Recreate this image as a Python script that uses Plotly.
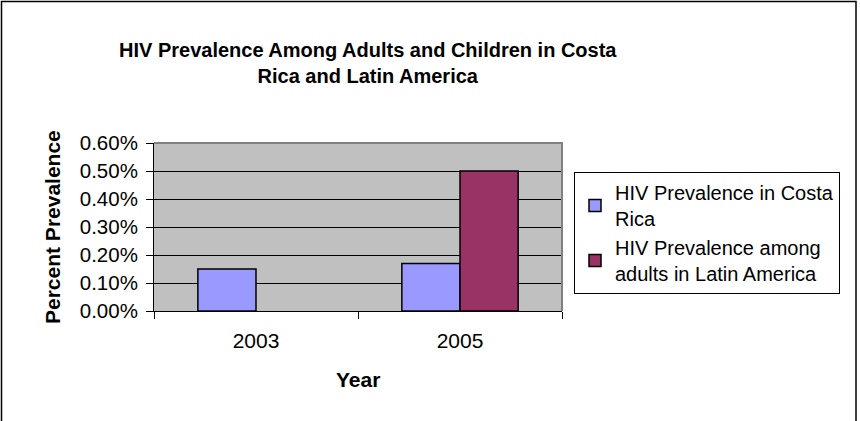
import plotly.graph_objects as go

years = ["2003", "2005"]
costa_rica = [0.0015, 0.0017]
latin_america = [None, 0.005]
series_names = ["HIV Prevalence in Costa<br>Rica", "HIV Prevalence among<br>adults in Latin America"]
y_ticks = [0, 0.001, 0.002, 0.003, 0.004, 0.005, 0.006]

W, H = 860, 421
L, R, T, B = 154, 562, 143, 311
pw, ph = R - L, B - T

def px_x(x):
    return (x - L) / pw

def px_y(y):
    return (B - y) / ph

FONT = "Liberation Sans, Arial, sans-serif"

fig = go.Figure()
fig.add_trace(go.Bar(x=years, y=costa_rica, name=series_names[0],
                     marker=dict(color="#9999FF", line=dict(color="black", width=1.5))))
fig.add_trace(go.Bar(x=years, y=latin_america, name=series_names[1],
                     marker=dict(color="#993366", line=dict(color="black", width=1.5))))

fig.update_layout(
    width=W, height=H,
    margin=dict(l=L, r=W - R, t=T, b=H - B, pad=0),
    paper_bgcolor="white", plot_bgcolor="#C0C0C0",
    barmode="group", bargap=0.43, bargroupgap=0,
    font=dict(family=FONT, size=20, color="black"),
    showlegend=True,
    legend=dict(x=px_x(574), y=px_y(172), xanchor="left", yanchor="top",
                bordercolor="black", borderwidth=1, bgcolor="white",
                font=dict(size=20), tracegroupgap=0, itemwidth=30),
    xaxis=dict(type="category", tickson="boundaries", ticks="outside", ticklen=7,
               tickcolor="black", showline=True, linecolor="black", linewidth=1,
               showgrid=False, tickfont=dict(size=21), ticklabelstandoff=11),
    yaxis=dict(range=[0, 0.006], tickvals=y_ticks, tickformat=".2%",
               ticks="outside", ticklen=7, tickcolor="black",
               showline=True, linecolor="black", linewidth=1,
               showgrid=True, gridcolor="black", gridwidth=1,
               zeroline=False, tickfont=dict(size=20.5), ticklabelstandoff=4),
)

# Plot area top/right border (gray)
fig.add_shape(type="path", xref="paper", yref="paper",
              path="M 0 1 L 1 1 L 1 0", line=dict(color="#808080", width=2), layer="above")
# Chart outer border
fig.add_shape(type="rect", xref="paper", yref="paper",
              x0=px_x(1.5), x1=px_x(856), y0=px_y(440), y1=px_y(1.5),
              line=dict(color="black", width=1.5), layer="below")

fig.add_annotation(text="<b>HIV Prevalence Among Adults and Children in Costa<br>Rica and Latin America</b>",
                   xref="paper", yref="paper", x=px_x(368), y=px_y(63),
                   xanchor="center", yanchor="middle", showarrow=False,
                   font=dict(size=20, family=FONT))
fig.add_annotation(text="<b>Percent Prevalence</b>", xref="paper", yref="paper",
                   x=px_x(52), y=px_y(227), xanchor="center", yanchor="middle",
                   textangle=-90, showarrow=False, font=dict(size=21, family=FONT))
fig.add_annotation(text="<b>Year</b>", xref="paper", yref="paper",
                   x=px_x(358), y=px_y(379), xanchor="center", yanchor="middle",
                   showarrow=False, font=dict(size=21, family=FONT))

fig.write_html("out.html", config={"displayModeBar": False},
               post_script="document.body.style.margin='0';")
